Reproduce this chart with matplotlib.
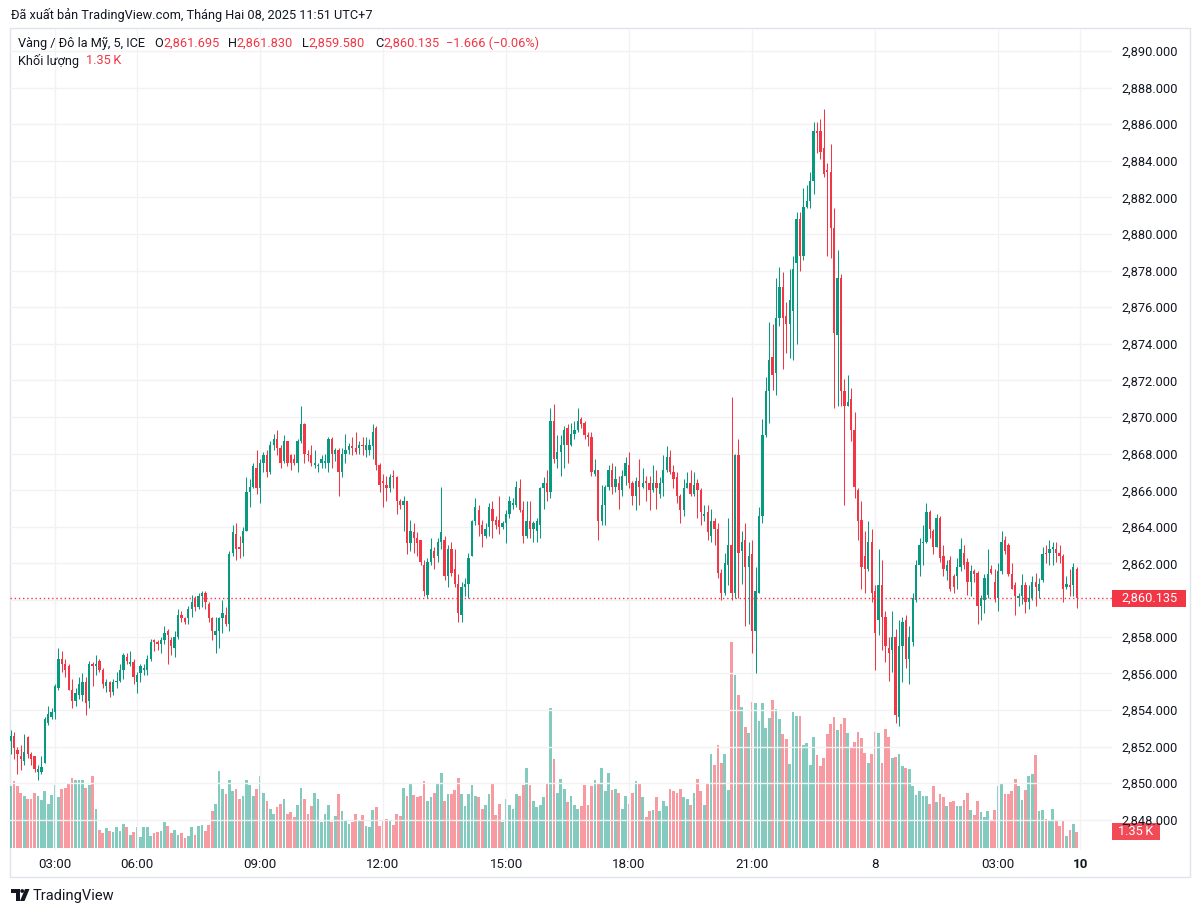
import matplotlib
matplotlib.use("Agg")
import matplotlib.pyplot as plt
import numpy as np
from matplotlib.patches import Rectangle, Polygon, Ellipse

plt.rcParams['font.family'] = ['Roboto', 'DejaVu Sans']

# 5-minute candles, gold / USD (ICE)
opens = [
    2852.3, 2852.6, 2851.8, 2851.5, 2851.2, 2852.5, 2851.6, 2851.5, 2850.6, 2850.6,
    2851.1, 2853.3, 2853.6, 2853.9, 2855.2, 2856.8, 2856.5, 2856.4, 2855.1, 2854.5,
    2854.8, 2854.8, 2855.5, 2854.5, 2856.5, 2856.4, 2856.7, 2856.2, 2855.3, 2855.5,
    2855.0, 2855.5, 2855.6, 2856.2, 2856.9, 2856.5, 2856.6, 2855.5, 2856.0, 2856.2,
    2856.2, 2856.8, 2857.8, 2857.7, 2857.6, 2857.8, 2858.3, 2857.8, 2857.4, 2858.0,
    2859.2, 2859.0, 2859.0, 2859.5, 2860.1, 2859.6, 2860.2, 2860.4, 2859.8, 2859.0,
    2858.1, 2858.3, 2859.0, 2859.2, 2858.7, 2862.6, 2863.6, 2862.9, 2863.1, 2863.8,
    2865.9, 2866.2, 2867.2, 2866.1, 2867.5, 2867.9, 2867.0, 2868.5, 2868.8, 2868.3,
    2867.6, 2868.7, 2867.9, 2867.7, 2867.5, 2868.7, 2869.6, 2868.0, 2867.9, 2867.4,
    2867.3, 2867.5, 2867.5, 2867.5, 2868.8, 2868.0, 2868.2, 2867.0, 2868.0, 2868.2,
    2868.4, 2868.3, 2868.3, 2868.5, 2868.2, 2868.2, 2868.4, 2869.4, 2867.4, 2866.5,
    2866.3, 2866.1, 2866.8, 2866.7, 2865.4, 2865.2, 2865.4, 2863.1, 2863.7, 2863.4,
    2863.3, 2861.9, 2860.3, 2862.1, 2862.7, 2862.4, 2863.2, 2863.3, 2861.3, 2862.8,
    2861.7, 2860.9, 2859.2, 2860.7, 2860.9, 2862.4, 2864.3, 2864.9, 2864.1, 2863.5,
    2864.0, 2865.0, 2864.4, 2864.4, 2864.0, 2864.2, 2864.7, 2865.2, 2865.2, 2866.1,
    2864.9, 2863.5, 2864.3, 2863.9, 2863.8, 2864.1, 2866.1, 2866.4, 2865.9, 2869.8,
    2867.7, 2868.1, 2868.5, 2869.4, 2868.5, 2869.1, 2869.3, 2869.9, 2869.7, 2869.0,
    2868.9, 2866.9, 2867.1, 2864.3, 2865.2, 2866.2, 2867.1, 2866.2, 2866.4, 2866.0,
    2866.8, 2867.4, 2866.4, 2865.7, 2866.5, 2866.2, 2866.5, 2866.4, 2866.0, 2866.4,
    2865.8, 2866.4, 2867.1, 2867.8, 2867.0, 2866.7, 2865.7, 2864.9, 2866.1, 2866.4,
    2865.8, 2866.4, 2866.0, 2864.6, 2864.8, 2863.5, 2864.3, 2863.9, 2861.5, 2860.4,
    2861.9, 2863.0, 2860.4, 2867.9, 2862.7, 2863.3, 2861.8, 2862.5, 2858.3, 2860.4,
    2864.6, 2869.0, 2871.4, 2873.3, 2872.4, 2875.4, 2877.1, 2875.5, 2875.1, 2875.8,
    2878.4, 2880.8, 2878.8, 2881.5, 2881.8, 2882.9, 2885.6, 2885.6, 2884.7, 2883.5,
    2883.4, 2880.3, 2874.5, 2877.6, 2871.4, 2870.6, 2871.0, 2869.3, 2866.0, 2864.4,
    2862.4, 2861.7, 2863.2, 2860.5, 2858.9, 2860.8, 2859.1, 2857.4, 2857.3, 2858.0,
    2853.6, 2857.5, 2858.9, 2856.8, 2857.7, 2860.0, 2861.9, 2863.1, 2863.2, 2864.8,
    2863.8, 2862.9, 2864.5, 2862.4, 2861.6, 2862.2, 2861.3, 2861.3, 2861.8, 2862.6,
    2862.1, 2861.0, 2861.6, 2861.5, 2859.7, 2860.0, 2860.3, 2861.7, 2861.0, 2860.1,
    2861.6, 2863.3, 2863.0, 2861.4, 2860.8, 2860.1, 2860.2, 2860.8, 2859.9, 2860.1,
    2861.0, 2860.5, 2861.1, 2862.6, 2862.6, 2862.8, 2862.8, 2862.6, 2862.4, 2860.7,
    2860.8, 2860.8, 2861.695,
]
highs = [
    2852.9, 2852.8, 2852.0, 2852.1, 2852.7, 2852.6, 2851.7, 2851.5, 2851.0, 2851.5,
    2853.6, 2854.2, 2854.1, 2855.4, 2857.4, 2857.2, 2856.8, 2856.5, 2855.7, 2855.2,
    2855.8, 2856.0, 2855.8, 2856.7, 2856.6, 2857.0, 2856.8, 2856.3, 2855.7, 2855.6,
    2855.7, 2856.1, 2856.5, 2857.1, 2857.1, 2857.2, 2856.8, 2856.1, 2856.5, 2856.5,
    2857.0, 2857.9, 2857.9, 2857.8, 2858.0, 2858.6, 2858.4, 2858.0, 2858.3, 2859.5,
    2859.4, 2859.1, 2859.7, 2860.3, 2860.2, 2860.4, 2860.5, 2860.5, 2859.9, 2859.1,
    2859.1, 2859.1, 2860.0, 2859.6, 2862.7, 2864.1, 2864.2, 2863.5, 2864.0, 2866.7,
    2866.6, 2867.5, 2868.2, 2867.7, 2868.1, 2868.2, 2868.7, 2869.1, 2869.3, 2868.5,
    2869.0, 2868.7, 2868.0, 2868.0, 2868.8, 2870.6, 2869.7, 2868.2, 2868.5, 2868.2,
    2867.5, 2867.9, 2868.0, 2868.9, 2868.9, 2868.3, 2868.3, 2868.3, 2869.1, 2868.6,
    2868.9, 2869.2, 2868.7, 2868.9, 2868.9, 2868.8, 2869.6, 2869.5, 2867.5, 2866.9,
    2866.8, 2866.9, 2867.1, 2866.8, 2865.5, 2865.7, 2865.4, 2864.4, 2864.2, 2863.7,
    2863.3, 2862.2, 2862.3, 2863.4, 2862.9, 2863.4, 2866.2, 2863.5, 2863.0, 2863.2,
    2862.8, 2861.4, 2861.0, 2861.2, 2862.6, 2864.4, 2865.6, 2865.2, 2864.4, 2864.2,
    2865.3, 2865.4, 2864.6, 2865.7, 2864.3, 2864.9, 2865.7, 2865.6, 2866.5, 2866.6,
    2865.4, 2865.4, 2865.4, 2864.3, 2864.5, 2866.2, 2866.7, 2867.1, 2870.5, 2870.7,
    2869.0, 2869.0, 2869.5, 2869.6, 2869.7, 2869.8, 2870.5, 2870.0, 2869.8, 2869.2,
    2869.2, 2867.7, 2867.1, 2866.3, 2866.3, 2867.4, 2867.5, 2867.3, 2866.8, 2867.1,
    2867.8, 2868.1, 2866.5, 2866.7, 2867.7, 2867.2, 2866.8, 2866.8, 2867.4, 2867.1,
    2866.7, 2867.9, 2868.4, 2868.2, 2867.4, 2867.0, 2865.8, 2866.6, 2867.0, 2867.1,
    2867.0, 2866.6, 2866.1, 2865.2, 2865.2, 2865.0, 2864.5, 2864.2, 2861.7, 2862.6,
    2864.5, 2871.1, 2868.0, 2868.8, 2863.8, 2864.2, 2863.2, 2863.3, 2861.8, 2865.1,
    2869.9, 2872.2, 2875.2, 2875.1, 2877.6, 2878.2, 2877.9, 2876.3, 2878.1, 2878.8,
    2881.2, 2881.2, 2882.5, 2882.7, 2883.4, 2886.1, 2886.1, 2886.3, 2886.8, 2883.9,
    2884.9, 2881.4, 2879.1, 2877.8, 2872.1, 2872.3, 2871.6, 2870.3, 2866.1, 2865.4,
    2863.8, 2864.3, 2863.9, 2860.8, 2862.8, 2862.2, 2859.4, 2858.0, 2859.4, 2858.4,
    2858.9, 2859.1, 2859.2, 2858.6, 2860.4, 2862.2, 2863.4, 2864.1, 2865.3, 2864.9,
    2863.9, 2864.7, 2864.6, 2863.0, 2862.2, 2862.4, 2861.4, 2862.3, 2863.4, 2863.0,
    2862.3, 2861.9, 2861.7, 2861.6, 2860.3, 2861.4, 2862.8, 2861.9, 2861.7, 2862.0,
    2863.8, 2863.5, 2863.1, 2862.0, 2861.0, 2860.4, 2861.4, 2861.0, 2860.8, 2861.3,
    2861.5, 2861.2, 2862.9, 2863.0, 2863.3, 2863.2, 2863.2, 2863.0, 2862.5, 2861.3,
    2861.7, 2862.0, 2861.83,
]
lows = [
    2851.6, 2851.3, 2850.5, 2850.7, 2851.0, 2851.4, 2851.0, 2850.6, 2850.2, 2850.5,
    2851.1, 2853.2, 2853.5, 2853.5, 2855.1, 2856.1, 2855.8, 2855.1, 2854.1, 2854.2,
    2854.6, 2854.5, 2853.7, 2854.1, 2855.3, 2855.9, 2856.1, 2855.2, 2855.0, 2854.7,
    2854.8, 2855.2, 2855.5, 2855.7, 2856.5, 2856.4, 2855.4, 2854.9, 2855.5, 2855.9,
    2855.9, 2856.7, 2857.2, 2857.3, 2857.1, 2857.6, 2856.5, 2857.0, 2856.9, 2857.9,
    2858.8, 2858.7, 2858.7, 2859.1, 2859.4, 2859.5, 2859.6, 2859.5, 2858.8, 2857.8,
    2857.1, 2857.4, 2858.2, 2858.6, 2858.3, 2862.4, 2862.2, 2862.3, 2862.4, 2863.8,
    2865.1, 2866.1, 2865.8, 2865.3, 2867.0, 2866.7, 2866.9, 2868.2, 2867.9, 2867.2,
    2867.5, 2867.3, 2867.1, 2867.4, 2867.0, 2868.6, 2867.5, 2867.6, 2867.3, 2867.2,
    2867.0, 2867.2, 2867.2, 2867.0, 2867.2, 2867.6, 2865.7, 2866.7, 2867.5, 2868.0,
    2867.9, 2868.0, 2868.0, 2867.9, 2867.8, 2867.9, 2867.7, 2867.1, 2865.9, 2865.1,
    2865.4, 2865.9, 2866.1, 2864.7, 2865.0, 2863.8, 2862.5, 2862.7, 2862.6, 2862.4,
    2861.9, 2860.2, 2860.1, 2861.9, 2861.7, 2862.1, 2862.8, 2861.1, 2860.7, 2861.3,
    2860.7, 2858.8, 2858.8, 2860.2, 2860.1, 2862.4, 2864.1, 2863.5, 2862.9, 2863.4,
    2863.5, 2863.4, 2863.9, 2863.6, 2863.9, 2863.1, 2864.5, 2865.0, 2865.1, 2864.8,
    2863.1, 2863.4, 2863.4, 2863.2, 2863.2, 2863.4, 2865.0, 2865.4, 2865.6, 2867.5,
    2867.2, 2866.8, 2867.2, 2867.5, 2868.4, 2868.8, 2869.2, 2869.4, 2868.8, 2868.4,
    2866.8, 2866.8, 2863.3, 2864.1, 2864.1, 2866.0, 2865.8, 2865.9, 2865.0, 2865.7,
    2866.3, 2866.1, 2865.2, 2864.9, 2865.2, 2866.1, 2865.4, 2864.9, 2865.9, 2865.0,
    2865.6, 2865.7, 2867.0, 2866.9, 2866.1, 2865.3, 2864.2, 2864.6, 2866.1, 2865.7,
    2865.7, 2864.5, 2864.1, 2864.3, 2863.3, 2863.2, 2863.0, 2861.2, 2860.0, 2860.3,
    2860.8, 2860.0, 2860.1, 2860.1, 2860.9, 2858.6, 2858.7, 2857.1, 2856.0, 2860.4,
    2864.2, 2868.9, 2869.7, 2871.5, 2871.2, 2875.0, 2872.6, 2873.5, 2873.2, 2873.1,
    2874.0, 2878.0, 2878.6, 2881.4, 2881.4, 2882.2, 2884.4, 2884.1, 2883.1, 2878.8,
    2878.7, 2870.5, 2870.6, 2870.6, 2865.2, 2870.6, 2868.7, 2865.6, 2863.3, 2860.6,
    2860.4, 2861.6, 2859.9, 2856.2, 2858.1, 2857.3, 2856.6, 2855.6, 2856.1, 2853.3,
    2853.1, 2855.5, 2856.3, 2855.4, 2857.5, 2859.9, 2861.3, 2861.9, 2863.1, 2863.4,
    2862.5, 2862.9, 2862.1, 2861.3, 2861.1, 2860.5, 2860.4, 2860.6, 2861.6, 2861.7,
    2860.3, 2860.2, 2861.0, 2858.7, 2858.9, 2859.3, 2860.1, 2861.4, 2859.9, 2859.4,
    2861.4, 2862.5, 2861.3, 2860.6, 2859.2, 2859.7, 2859.8, 2859.3, 2859.5, 2860.0,
    2859.7, 2860.1, 2861.0, 2862.0, 2861.9, 2861.9, 2862.1, 2862.0, 2859.9, 2860.6,
    2860.2, 2860.2, 2859.58,
]
closes = [
    2852.6, 2851.9, 2851.6, 2851.3, 2851.7, 2851.6, 2851.3, 2850.8, 2850.8, 2850.9,
    2853.5, 2853.8, 2853.9, 2855.3, 2856.8, 2856.5, 2856.2, 2855.1, 2854.5, 2854.9,
    2855.4, 2855.5, 2854.4, 2856.5, 2856.4, 2856.5, 2856.2, 2855.4, 2855.5, 2855.0,
    2855.5, 2855.6, 2856.2, 2857.0, 2856.7, 2856.6, 2855.8, 2855.9, 2856.4, 2856.3,
    2856.8, 2857.7, 2857.7, 2857.6, 2857.8, 2858.2, 2858.1, 2857.5, 2858.0, 2859.2,
    2859.0, 2858.8, 2859.5, 2859.9, 2859.6, 2860.2, 2860.4, 2859.9, 2859.0, 2858.3,
    2858.3, 2859.0, 2859.3, 2858.7, 2862.5, 2863.7, 2862.8, 2862.8, 2863.8, 2865.9,
    2866.2, 2867.3, 2866.1, 2867.5, 2867.9, 2867.0, 2868.5, 2868.8, 2868.3, 2867.5,
    2868.7, 2867.5, 2867.5, 2867.5, 2868.7, 2869.6, 2868.0, 2867.9, 2867.5, 2867.5,
    2867.4, 2867.7, 2867.6, 2868.8, 2868.0, 2868.2, 2867.0, 2868.0, 2868.2, 2868.4,
    2868.3, 2868.1, 2868.5, 2868.4, 2868.5, 2868.5, 2869.2, 2867.4, 2866.3, 2866.4,
    2866.1, 2866.7, 2866.7, 2865.4, 2865.2, 2865.4, 2863.1, 2863.8, 2863.4, 2863.1,
    2862.1, 2860.5, 2862.1, 2862.8, 2862.3, 2863.2, 2863.7, 2861.3, 2862.8, 2861.5,
    2860.9, 2859.3, 2860.7, 2860.9, 2862.3, 2864.3, 2865.1, 2864.1, 2863.6, 2863.9,
    2865.1, 2864.3, 2864.1, 2864.0, 2864.2, 2864.7, 2865.4, 2865.3, 2866.2, 2864.9,
    2863.5, 2864.3, 2863.9, 2864.2, 2864.3, 2866.1, 2866.4, 2865.9, 2869.8, 2867.7,
    2868.1, 2868.5, 2869.3, 2868.5, 2869.1, 2869.3, 2869.8, 2869.6, 2869.0, 2868.9,
    2867.0, 2867.1, 2864.3, 2865.2, 2866.2, 2867.1, 2866.2, 2866.6, 2866.0, 2866.8,
    2867.5, 2866.4, 2865.7, 2866.5, 2866.2, 2866.4, 2866.4, 2866.0, 2866.4, 2866.1,
    2866.4, 2867.1, 2867.8, 2867.0, 2866.6, 2865.7, 2864.9, 2866.1, 2866.4, 2865.8,
    2866.3, 2866.0, 2864.8, 2864.7, 2863.7, 2864.3, 2863.9, 2861.5, 2860.4, 2862.0,
    2863.0, 2860.4, 2867.9, 2862.6, 2863.2, 2861.8, 2862.4, 2858.3, 2860.5, 2864.6,
    2869.0, 2871.4, 2873.1, 2872.3, 2875.4, 2877.1, 2875.4, 2875.1, 2876.4, 2878.1,
    2880.8, 2878.8, 2881.5, 2881.8, 2882.9, 2885.6, 2885.5, 2884.5, 2883.3, 2883.4,
    2880.3, 2874.6, 2877.6, 2871.4, 2870.6, 2870.8, 2869.3, 2866.2, 2864.3, 2861.8,
    2861.7, 2863.2, 2860.4, 2858.2, 2860.8, 2859.1, 2857.5, 2857.1, 2858.0, 2853.7,
    2857.5, 2858.8, 2856.8, 2858.0, 2860.1, 2861.9, 2863.0, 2863.2, 2864.8, 2863.9,
    2862.9, 2864.5, 2862.3, 2861.7, 2861.9, 2860.6, 2860.7, 2861.8, 2862.8, 2861.9,
    2861.0, 2861.6, 2861.4, 2859.7, 2860.1, 2861.2, 2861.4, 2861.5, 2860.1, 2861.6,
    2863.2, 2862.7, 2861.4, 2860.6, 2860.2, 2860.2, 2860.8, 2859.9, 2860.1, 2861.0,
    2860.7, 2860.9, 2862.5, 2862.5, 2862.8, 2862.9, 2862.6, 2862.4, 2860.6, 2860.9,
    2860.7, 2861.8, 2860.135,
]
# volume in thousands
volumes = [
    5.0, 5.4, 5.0, 4.5, 4.2, 4.0, 4.0, 4.5, 4.2, 3.9,
    4.6, 3.6, 4.3, 5.1, 4.1, 4.8, 4.9, 5.2, 5.7, 5.5,
    5.5, 5.5, 4.9, 5.1, 5.8, 3.2, 1.5, 1.2, 1.6, 1.4,
    1.3, 1.7, 1.4, 2.0, 1.7, 1.1, 1.3, 1.7, 0.9, 1.7,
    1.7, 1.0, 1.2, 1.3, 1.4, 2.1, 1.8, 1.2, 1.5, 1.1,
    1.2, 0.8, 1.0, 1.7, 1.1, 1.8, 1.9, 1.4, 1.9, 3.0,
    3.6, 6.2, 4.8, 4.4, 5.5, 4.6, 4.8, 4.0, 4.2, 5.5,
    5.1, 4.2, 4.8, 5.8, 4.5, 3.8, 3.2, 2.8, 3.3, 3.6,
    4.0, 2.8, 2.9, 2.5, 3.5, 4.9, 4.0, 2.8, 3.4, 4.5,
    4.0, 2.1, 2.8, 3.5, 2.1, 2.6, 4.4, 3.0, 2.3, 2.0,
    2.1, 2.8, 2.3, 2.7, 1.8, 1.7, 3.1, 3.3, 1.8, 2.3,
    2.4, 2.3, 1.9, 2.8, 2.6, 4.9, 4.2, 5.3, 4.3, 4.1,
    4.2, 5.4, 3.8, 4.1, 4.5, 5.2, 6.1, 3.8, 4.4, 4.4,
    4.7, 5.7, 4.4, 3.4, 4.4, 5.1, 4.2, 4.1, 3.2, 3.5,
    4.4, 5.2, 2.7, 3.6, 2.1, 4.0, 3.5, 3.2, 4.4, 4.2,
    5.1, 6.5, 5.1, 3.8, 3.3, 3.5, 4.1, 5.2, 11.3, 7.2,
    4.5, 5.6, 4.8, 3.7, 4.2, 3.5, 3.2, 3.4, 5.1, 3.5,
    5.0, 5.5, 5.3, 6.5, 4.6, 6.1, 4.7, 4.8, 4.5, 3.2,
    4.2, 3.6, 4.5, 5.4, 5.2, 4.1, 2.5, 3.0, 3.1, 4.1,
    3.0, 3.8, 3.4, 4.8, 4.6, 4.5, 4.8, 4.1, 4.0, 3.5,
    4.5, 5.6, 4.6, 3.5, 5.3, 7.6, 6.7, 8.3, 6.9, 7.6,
    4.7, 16.6, 14.0, 12.4, 11.4, 9.8, 9.3, 11.8, 11.7, 10.3,
    11.7, 9.7, 10.5, 12.0, 11.2, 10.4, 9.2, 8.8, 6.8, 11.0,
    10.7, 10.7, 8.3, 8.5, 6.7, 9.0, 7.5, 6.6, 7.3, 9.2,
    10.0, 10.6, 9.5, 10.0, 10.5, 9.3, 8.1, 8.6, 9.4, 8.9,
    7.7, 6.9, 7.6, 9.4, 9.3, 6.9, 9.6, 9.0, 7.3, 7.4,
    7.6, 6.6, 6.5, 6.4, 5.0, 4.3, 4.6, 4.2, 4.2, 3.6,
    5.0, 3.7, 4.4, 4.1, 3.4, 3.7, 3.8, 3.4, 3.4, 3.9,
    4.5, 3.1, 2.7, 3.8, 2.9, 2.5, 3.0, 2.2, 3.1, 5.0,
    5.2, 4.4, 4.4, 4.6, 5.6, 5.0, 3.9, 4.7, 5.8, 6.0,
    7.5, 3.0, 3.1, 2.4, 2.2, 3.2, 2.3, 1.8, 2.3, 1.0,
    1.5, 2.0, 1.35,
]

tick_pos = [13, 37, 73, 109, 145, 181, 217, 253, 289, 313]
tick_labels = ['03:00', '06:00', '09:00', '12:00', '15:00', '18:00', '21:00', '8', '03:00', '10']
price_ticks = list(range(2848, 2892, 2))

UP = '#089981'
DOWN = '#F23645'
TXT = '#131722'
GRID = '#f2f2f5'

W, H = 1200, 913
fig = plt.figure(figsize=(12, 9.13), dpi=100)
fig.patch.set_facecolor('white')


def fx(x):
    return x / W


def fy(y):
    return 1 - y / H


rect = [fx(10), fy(850), fx(1112) - fx(10), fy(30) - fy(850)]

# volume pane underneath the candles
vax = fig.add_axes(rect, zorder=1)
ax = fig.add_axes(rect, zorder=2)
ax.patch.set_alpha(0)

o = np.array(opens)
h = np.array(highs)
l = np.array(lows)
c = np.array(closes)
v = np.array(volumes)
x = np.arange(len(o))
up = c >= o
cols = np.where(up, UP, DOWN)

# bar 0 centre sits at pixel 10.6, 3.417 px per bar
px_per_bar = 3.417
x_left = (10 - 10.6) / px_per_bar
x_right = (1112 - 10.6) / px_per_bar

vax.bar(x, v, width=0.8, color=cols, alpha=0.5, linewidth=0)
vax.set_xlim(x_left, x_right)
vax.set_ylim(-1.7 / 12.4, (820 - 1.7) / 12.4)
vax.axis('off')

ax.vlines(x, l, h, colors=cols, linewidth=0.75)
body_low = np.minimum(o, c)
body_h = np.maximum(np.abs(c - o), 0.06)
ax.bar(x, body_h, bottom=body_low, width=0.68, color=cols, linewidth=0)

ax.set_xlim(x_left, x_right)
ax.set_ylim(2890 - (850 - 50.9) / 18.307, 2890 + (50.9 - 30) / 18.307)

# grid
for p in price_ticks:
    ax.axhline(p, color=GRID, linewidth=1, zorder=0)
for t in tick_pos:
    ax.axvline(t, color=GRID, linewidth=1, zorder=0)

# last price line
ax.axhline(closes[-1], color=DOWN, linewidth=1, linestyle=(0, (1, 2)), zorder=3)

for s in ax.spines.values():
    s.set_visible(False)

ax.yaxis.tick_right()
ax.set_yticks(price_ticks)
# the 2,860 label is hidden behind the last-price tag
ax.set_yticklabels(['' if p == 2860 else f'{p:,.3f}' for p in price_ticks])
ax.tick_params(axis='y', length=0, pad=6.5, labelsize=9.2, labelcolor=TXT)
ax.set_xticks(tick_pos)
ax.set_xticklabels(tick_labels)
ax.tick_params(axis='x', length=0, pad=6, labelsize=9.6, labelcolor=TXT)
ax.get_xticklabels()[-1].set_fontweight('bold')

# pane border
fig.add_artist(Rectangle((fx(10), fy(877)), fx(1190) - fx(10), fy(28) - fy(877),
                         transform=fig.transFigure, fill=False, edgecolor='#e0e3eb', linewidth=1))

# last price tag and volume tag
fig.add_artist(Rectangle((fx(1112), fy(607)), fx(74), 17 / H, transform=fig.transFigure,
                         facecolor=DOWN, edgecolor='none'))
fig.text(fx(1149), fy(598.5), f'{closes[-1]:,.3f}', color='white', fontsize=9.2,
         ha='center', va='center')
fig.add_artist(Rectangle((fx(1112), fy(840)), fx(48), 17 / H, transform=fig.transFigure,
                         facecolor=DOWN, edgecolor='none', alpha=0.9))
fig.text(fx(1136), fy(831.5), '1.35\u2009K', color='white', fontsize=9.2,
         ha='center', va='center')

# header and legend
fig.text(fx(10.5), fy(15), 'Đã xuất bản TradingView.com, Tháng Hai 08, 2025 11:51 UTC+7',
         color=TXT, fontsize=9.2, va='center')
fig.text(fx(18.5), fy(43.5), 'Vàng / Đô la Mỹ, 5, ICE', color=TXT, fontsize=9.2, va='center')
legend_parts = [
    (154, 'O', TXT), (163.5, '2,861.695', DOWN),
    (228, 'H', TXT), (236.5, '2,861.830', DOWN),
    (302, 'L', TXT), (308.5, '2,859.580', DOWN),
    (375, 'C', TXT), (383, '2,860.135', DOWN),
    (446, '\u22121.666 (\u22120.06%)', DOWN),
]
for px_, s, col in legend_parts:
    fig.text(fx(px_), fy(43.5), s, color=col, fontsize=9.2, va='center')
fig.text(fx(18.5), fy(61), 'Khối lượng', color=TXT, fontsize=9.2, va='center')
fig.text(fx(86), fy(61), '1.35\u2009K', color=DOWN, fontsize=9.2, va='center')

# TradingView logo
logo_col = '#131722'
fig.add_artist(Polygon([(fx(11), fy(889)), (fx(19.5), fy(889)), (fx(19.5), fy(901)),
                        (fx(15.8), fy(901)), (fx(15.8), fy(892.8)), (fx(11), fy(892.8))],
                       closed=True, transform=fig.transFigure, facecolor=logo_col, edgecolor='none'))
fig.add_artist(Ellipse((fx(22.2), fy(891)), fx(3.8), 3.8 / H, transform=fig.transFigure,
                       facecolor=logo_col, edgecolor='none'))
fig.add_artist(Polygon([(fx(25), fy(889)), (fx(29.5), fy(889)), (fx(24.5), fy(901)),
                        (fx(20), fy(901))],
                       closed=True, transform=fig.transFigure, facecolor=logo_col, edgecolor='none'))
fig.text(fx(33), fy(895.5), 'TradingView', color=TXT, fontsize=10.5, va='center')

fig.savefig('out.png', dpi=100, facecolor='white')
